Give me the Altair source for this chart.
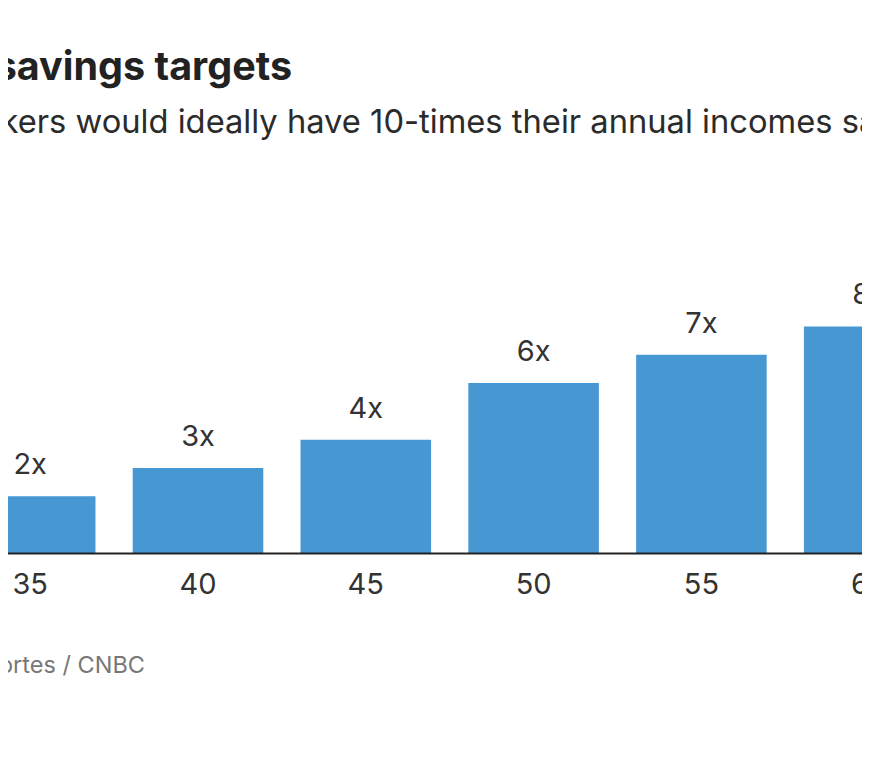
import altair as alt
import pandas as pd

# ---- data ----
ages = ["30", "35", "40", "45", "50", "55", "60", "67"]
multiples = [1, 2, 3, 4, 6, 7, 8, 10]
bar_labels = ["1x", "2x", "3x", "4x", "6x", "7x", "8x", "10x"]

title_text = "Fidelity's savings targets"
subtitle_text = "By age 67, workers would ideally have 10-times their annual incomes saved"
source_text = "Source: Fidelity Investments. Chart: Gabriel Cortes / CNBC"

df = pd.DataFrame({"age": ages, "mult": multiples, "label": bar_labels})

FONT = "Inter"
BLUE = "#4797d3"
DARK = "#2b2b2b"

x_enc = alt.X(
    "age:N",
    sort=ages,
    scale=alt.Scale(domain=ages, range=[-229.5, 1112.9], paddingInner=0.222, paddingOuter=0.111),
    axis=alt.Axis(
        title=None, labelAngle=0, ticks=False, domain=True, domainColor="#222222",
        domainWidth=2, labelFontSize=29, labelFont=FONT, labelColor="#333333",
        labelPadding=17, grid=False, zindex=1,
    ),
)
y_enc = alt.Y("mult:Q", scale=alt.Scale(domain=[0, 12.5], nice=False), axis=None)

bars = alt.Chart(df).mark_bar(color=BLUE).encode(x=x_enc, y=y_enc)
values = alt.Chart(df).mark_text(
    font=FONT, fontSize=29, color="#333333", baseline="alphabetic", dy=-22
).encode(x=x_enc, y=y_enc, text="label:N")

title = alt.Chart(alt.Data(values=[{"t": title_text}])).mark_text(
    font=FONT, fontSize=39.5, fontWeight="bold", color="#222222", align="right", baseline="alphabetic"
).encode(x=alt.value(284), y=alt.value(-119), text="t:N")

subtitle = alt.Chart(alt.Data(values=[{"t": subtitle_text}])).mark_text(
    font=FONT, fontSize=32.7, color=DARK, align="left", baseline="alphabetic"
).encode(x=alt.value(-235), y=alt.value(-66), text="t:N")

source = alt.Chart(alt.Data(values=[{"t": source_text}])).mark_text(
    font=FONT, fontSize=23.5, color="#777777", align="right", baseline="alphabetic"
).encode(x=alt.value(137), y=alt.value(474), text="t:N")

chart = alt.layer(bars, values, title, subtitle, source).properties(
    width=854,
    height=354,
    background="white",
    autosize=alt.AutoSizeParams(type="none"),
    padding={"left": 0, "top": 191, "right": 0, "bottom": 210},
).configure_view(strokeWidth=0, stroke="transparent")

chart.save("out.html", embed_options={"renderer": "svg", "actions": False})
